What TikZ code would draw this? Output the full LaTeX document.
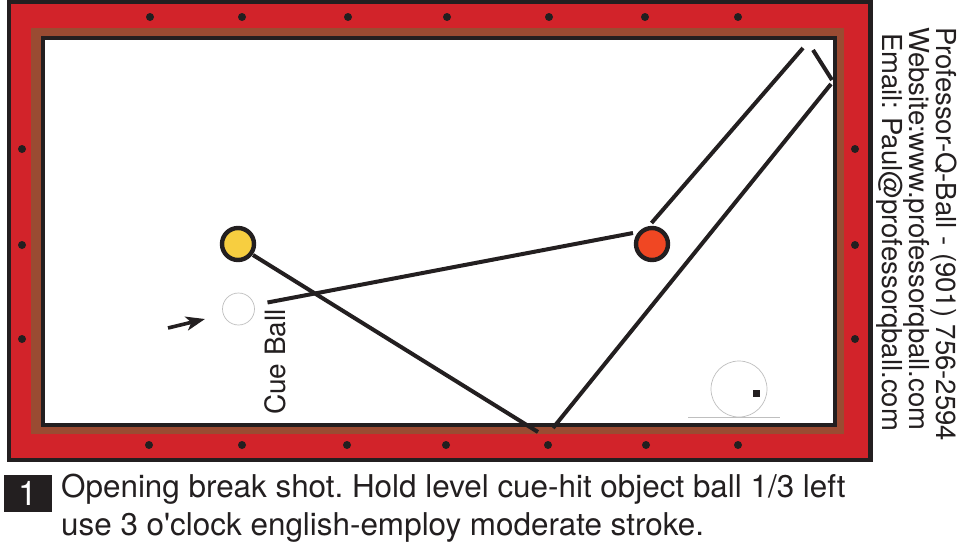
\documentclass[tikz,border=0pt]{standalone}
\usepackage{fontspec}
\setmainfont{TeX Gyre Heros}
\newfontfamily\plainfont{TeX Gyre Heros}
\usetikzlibrary{arrows.meta}
\definecolor{feltred}{HTML}{D2232A}
\definecolor{railbrown}{HTML}{9A4B32}
\definecolor{ink}{HTML}{231F20}
\definecolor{ballyellow}{HTML}{F7CE40}
\definecolor{ballred}{HTML}{F04723}
\frenchspacing
\tikzset{
  x=1pt,y=-1pt,
  ball/.style={circle,draw=ink,line width=4.4pt,inner sep=0pt,minimum size=32pt},
  ghost/.style={circle,draw=black!25,line width=0.7pt,fill=white,inner sep=0pt},
  path/.style={draw=ink,line width=4pt},
  dot/.style={circle,fill=ink,inner sep=0pt,minimum size=8pt},
  side/.style={font=\frenchspacing\fontsize{27.5}{27.5}\selectfont,text=ink,rotate=-90,inner sep=0pt,anchor=north west},
  caption/.style={font=\frenchspacing\plainfont\fontsize{31.4}{31.4}\selectfont,text=ink,inner sep=0pt,anchor=base west},
}
\begin{document}
\begin{tikzpicture}
\useasboundingbox (0,0) rectangle (960,549);
\fill[white] (0,0) rectangle (960,549);
\draw[ink,line width=4.5pt,fill=feltred] (9,1.5) rectangle (870.5,460);
\fill[railbrown] (31,28) rectangle (844,434);
\draw[ink,line width=4pt,fill=white] (43,38) rectangle (835,425);
% diamonds
\foreach \n/\x in {a/150,b/242,c/348,d/447,e/549,f/645,g/738}
  \node[dot] (top\n) at (\x,17) {};
\foreach \n/\x in {a/149,b/242,c/347,d/446,e/548,f/646,g/738}
  \node[dot] (bot\n) at (\x,445) {};
\foreach \n/\y in {a/149,b/245,c/339}{
  \node[dot] (left\n) at (22,\y) {};
  \node[dot] (right\n) at (855,\y) {};
}
% balls
\node[ball,fill=ballyellow] (yellow) at (238,244) {};
\node[ball,fill=ballred] (red) at (652,244) {};
\node[ghost,minimum size=32pt] (cue) at (238.5,309) {};
\node[ghost,minimum size=56pt] (english) at (739,389) {};
\node[fill=ink,inner sep=0pt,minimum size=7pt] (tip) at (756,393.5) {};
\coordinate (gl) at (688,417.3);
\coordinate (gr) at (780,417.3);
\draw[black!25,line width=0.7pt] (gl) -- (gr);
% ball path
\coordinate (y1) at (253,255);
\coordinate (y2) at (538,432);
\coordinate (b1) at (553,428);
\coordinate (b2) at (831,84);
\coordinate (c1) at (832,80);
\coordinate (c2) at (813,50);
\coordinate (d1) at (803,48);
\coordinate (d2) at (651.5,223);
\coordinate (e1) at (267.5,302.5);
\coordinate (e2) at (633,233);
\draw[path] (y1) -- (y2);
\draw[path] (b1) -- (b2);
\draw[path] (c1) -- (c2);
\draw[path] (d1) -- (d2);
\draw[path] (e1) -- (e2);
% aim arrow
\coordinate (a1) at (168,328);
\coordinate (a2) at (205,319);
\draw[ink,line width=3.6pt,-{Stealth[length=19pt,width=14pt,inset=5pt]}] (a1) -- (a2);
% labels
\node[font=\fontsize{28}{28}\selectfont,text=ink,rotate=90,inner sep=0pt] (cuelabel) at (275,362) {Cue Ball};
\node[side] (l1) at (957,27) {Professor-Q-Ball - (901) 756-2594};
\node[side] (l2) at (930,27) {Website:www.professorqball.com};
\node[side] (l3) at (903,33) {Email: Paul@professorqball.com};
% caption
\node[fill=ink,minimum width=48pt,minimum height=37pt,inner sep=0pt,text=white,font=\fontsize{34}{34}\selectfont] (num) at (28,493.5) {1};
\node[caption] (t1) at (61,497) {Opening break shot. Hold level cue-hit object ball 1/3 left};
\node[caption] (t2) at (61,535) {use 3 o'clock english-employ moderate stroke.};
\end{tikzpicture}
\end{document}
